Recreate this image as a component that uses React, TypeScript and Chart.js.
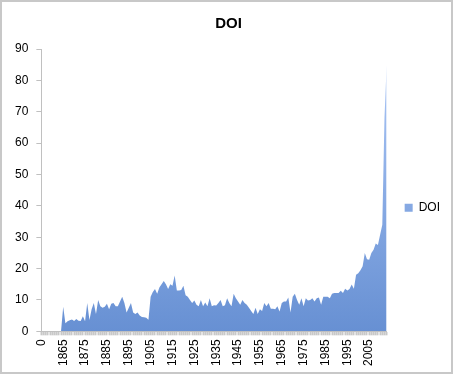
import React, { useEffect, useRef } from "react";
import { Chart, registerables } from "chart.js";

Chart.register(...registerables);

const seriesName = "DOI";
const firstYear = 1856;
const lastYear = 2013;
// category labels: first category shows "0", then years
const categories: string[] = ["0"];
for (let y = firstYear; y <= lastYear; y++) categories.push(String(y));

const doiValues: number[] = [
  0, 0, 0, 0, 0, 0, 0, 0, 0, 0,
  7.8, 2.6, 3.2, 3.5, 3.8, 3.3, 3.9, 3.4, 3.3, 4.8,
  3.2, 9.0, 3.6, 7.0, 9.0, 5.5, 10.0, 8.0, 7.5, 7.8,
  8.8, 7.0, 8.8, 9.0, 8.0, 8.0, 9.5, 11.0, 9.0, 6.0,
  7.5, 9.0, 6.0, 5.5, 6.0, 5.0, 4.6, 4.5, 4.3, 3.7,
  11.0, 12.5, 13.5, 12.0, 14.0, 15.0, 16.0, 15.0, 13.5, 15.0,
  14.5, 17.8, 13.0, 13.0, 13.2, 14.5, 11.5, 11.0, 10.0, 9.0,
  9.8, 8.5, 8.0, 10.0, 8.0, 9.2, 8.0, 10.5, 8.0, 8.3,
  8.2, 9.0, 10.0, 8.0, 8.3, 10.5, 9.0, 8.0, 12.0, 10.5,
  9.5, 8.5, 10.0, 9.0, 8.5, 7.5, 6.5, 5.5, 7.5, 5.5,
  7.0, 6.5, 9.0, 8.0, 9.0, 7.2, 7.2, 7.0, 8.0, 6.3,
  9.0, 9.5, 9.5, 10.8, 6.0, 11.0, 12.0, 10.0, 8.5, 10.5,
  8.0, 10.5, 9.8, 10.0, 10.5, 9.5, 10.5, 10.8, 8.5, 11.0,
  11.0, 11.0, 10.5, 12.0, 12.2, 12.2, 12.2, 12.9, 12.2, 13.6,
  13.0, 13.5, 14.9, 13.6, 18.0, 18.5, 19.5, 20.7, 25.0, 23.0,
  22.8, 25.0, 26.0, 28.0, 27.5, 30.8, 34.0, 68.0, 85.0,
];

const yTicksMin = 0;
const yTicksMax = 90;
const yTicksStep = 10;
const xLabelEvery = 10;

const FONT = "'Liberation Sans', Arial, sans-serif";

export default function App() {
  const canvasRef = useRef<HTMLCanvasElement | null>(null);

  useEffect(() => {
    if (!canvasRef.current) return;
    const chart = new Chart(canvasRef.current, {
      type: "line",
      data: {
        labels: categories,
        datasets: [
          {
            label: seriesName,
            data: doiValues,
            fill: "origin",
            borderWidth: 0,
            borderColor: "rgba(0,0,0,0)",
            pointRadius: 0,
            tension: 0,
            backgroundColor: (ctx: any) => {
              const c = ctx.chart;
              const a = c.chartArea;
              if (!a) return "#7ea2e2";
              const g = c.ctx.createLinearGradient(0, a.top, 0, a.bottom);
              g.addColorStop(0, "#adc8f7");
              g.addColorStop(1, "#6790d3");
              return g;
            },
          },
        ],
      },
      options: {
        animation: false,
        responsive: true,
        maintainAspectRatio: false,
        layout: { padding: { left: 7, right: 4, top: 12, bottom: 5 } },
        plugins: {
          title: {
            display: true,
            text: "DOI",
            color: "#000",
            font: { family: FONT, size: 15, weight: "bold" },
            padding: { top: 3, bottom: 16 },
          },
          legend: {
            display: true,
            position: "right",
            title: { display: true, text: "", padding: { top: 19, bottom: 0 }, font: { size: 12 } },
            labels: {
              boxWidth: 8,
              boxHeight: 8,
              padding: 18,
              color: "#000",
              font: { family: FONT, size: 12 },
            },
          },
          tooltip: { enabled: false },
        },
        scales: {
          x: {
            type: "category",
            offset: false,
            grid: {
              display: true,
              drawOnChartArea: false,
              drawTicks: true,
              tickLength: 4,
              tickColor: "#c8c8c8",
              tickWidth: 2,
            },
            border: { display: true, color: "#c0c0c0", width: 1 },
            ticks: {
              autoSkip: false,
              maxRotation: 90,
              minRotation: 90,
              padding: 4,
              color: "#000",
              font: { family: FONT, size: 12 },
              callback: (_v: any, i: number) => (i % xLabelEvery === 0 ? categories[i] : ""),
            },
          },
          y: {
            min: yTicksMin,
            max: yTicksMax,
            grid: {
              display: true,
              drawOnChartArea: false,
              drawTicks: true,
              tickLength: 5,
              tickColor: "#c0c0c0",
            },
            border: { display: true, color: "#c0c0c0", width: 1 },
            ticks: {
              stepSize: yTicksStep,
              padding: 8,
              color: "#000",
              font: { family: FONT, size: 12 },
            },
          },
        },
      },
    });
    return () => chart.destroy();
  }, []);

  return (
    <div style={{ position: "fixed", left: 0, top: 0, width: 454, height: 375, background: "#fff" }}>
      <canvas ref={canvasRef} />
      <div
        style={{
          position: "absolute",
          left: 0,
          top: 0,
          width: 453,
          height: 374,
          border: "2px solid #c8c8c8",
          boxSizing: "border-box",
          pointerEvents: "none",
        }}
      />
    </div>
  );
}
